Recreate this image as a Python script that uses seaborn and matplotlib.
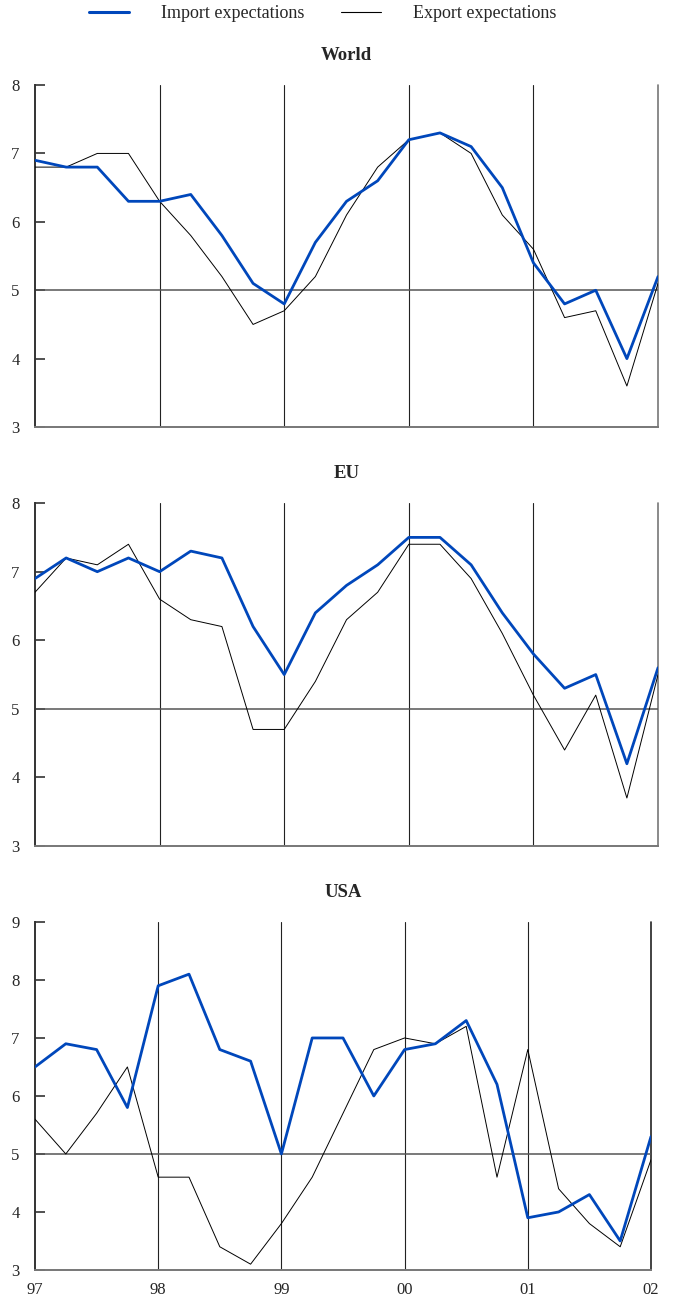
import matplotlib
matplotlib.use('Agg')
import matplotlib.pyplot as plt
from matplotlib.lines import Line2D
import pandas as pd
import seaborn as sns

# quarterly observations 1997Q1 .. 2002Q1
quarters = pd.period_range('1997Q1', '2002Q1', freq='Q')
year_ticks = [1997, 1998, 1999, 2000, 2001, 2002]
year_labels = ['97', '98', '99', '00', '01', '02']

world_import = [6.9, 6.8, 6.8, 6.3, 6.3, 6.4, 5.8, 5.1, 4.8, 5.7, 6.3, 6.6, 7.2, 7.3, 7.1, 6.5, 5.4, 4.8, 5.0, 4.0, 5.2]
world_export = [6.8, 6.8, 7.0, 7.0, 6.3, 5.8, 5.2, 4.5, 4.7, 5.2, 6.1, 6.8, 7.2, 7.3, 7.0, 6.1, 5.6, 4.6, 4.7, 3.6, 5.1]

eu_import = [6.9, 7.2, 7.0, 7.2, 7.0, 7.3, 7.2, 6.2, 5.5, 6.4, 6.8, 7.1, 7.5, 7.5, 7.1, 6.4, 5.8, 5.3, 5.5, 4.2, 5.6]
eu_export = [6.7, 7.2, 7.1, 7.4, 6.6, 6.3, 6.2, 4.7, 4.7, 5.4, 6.3, 6.7, 7.4, 7.4, 6.9, 6.1, 5.2, 4.4, 5.2, 3.7, 5.5]

usa_import = [6.5, 6.9, 6.8, 5.8, 7.9, 8.1, 6.8, 6.6, 5.0, 7.0, 7.0, 6.0, 6.8, 6.9, 7.3, 6.2, 3.9, 4.0, 4.3, 3.5, 5.3]
usa_export = [5.6, 5.0, 5.7, 6.5, 4.6, 4.6, 3.4, 3.1, 3.8, 4.6, 5.7, 6.8, 7.0, 6.9, 7.2, 4.6, 6.8, 4.4, 3.8, 3.4, 4.9]

BLUE = '#0047bb'

sns.set_style('white')
plt.rcParams['font.family'] = ['Liberation Serif', 'DejaVu Serif']

x = quarters.year + (quarters.quarter - 1) / 4

panels = [
    ('World', world_import, world_export, [0.0517, 0.6715, 0.9203, 0.2631], (3, 8), '#777777'),
    ('EU', eu_import, eu_export, [0.0517, 0.3492, 0.9203, 0.2638], (3, 8), '#777777'),
    ('USA', usa_import, usa_export, [0.0517, 0.0231, 0.9099, 0.2677], (3, 9), '#222222'),
]

fig = plt.figure(figsize=(6.77, 13), dpi=100)

for i, (name, imp, exp, rect, ylim, edge) in enumerate(panels):
    ax = fig.add_axes(rect)
    df = pd.DataFrame({'x': x, 'Import expectations': imp, 'Export expectations': exp})

    for yr in year_ticks[1:-1]:
        ax.axvline(yr, color='#222222', lw=0.8, zorder=1)
    ax.axvline(year_ticks[-1], color=edge, lw=1.2, zorder=1, clip_on=False)
    ax.axhline(5, color='#555555', lw=1.1, zorder=1)

    sns.lineplot(data=df, x='x', y='Export expectations', color='black', lw=0.7, ax=ax, zorder=3)
    sns.lineplot(data=df, x='x', y='Import expectations', color=BLUE, lw=2.0, ax=ax, zorder=4)

    ax.set_xlim(1997, 2002)
    ax.set_ylim(*ylim)
    ax.set_yticks(range(ylim[0], ylim[1] + 1))
    ax.set_xlabel('')
    ax.set_ylabel('')
    ax.set_title(name, fontsize=13.5, fontweight='bold', pad=18)

    for s in ['top', 'right']:
        ax.spines[s].set_visible(False)
    ax.spines['left'].set_color('#333333')
    ax.spines['left'].set_linewidth(1.4)
    ax.spines['bottom'].set_color('#777777')
    ax.spines['bottom'].set_linewidth(1.4)

    ax.tick_params(axis='y', direction='in', length=7, width=1.2, color='#333333',
                   labelsize=12, pad=11, left=True)
    ax.set_xticks(year_ticks)
    if i == 2:
        ax.set_xticklabels(year_labels)
        ax.tick_params(axis='x', length=0, labelsize=12, pad=9)
    else:
        ax.tick_params(axis='x', length=0, labelbottom=False)

handles = [Line2D([], [], color=BLUE, lw=2.2), Line2D([], [], color='black', lw=0.8)]
fig.legend(handles, ['Import expectations', 'Export expectations'], loc='center',
           bbox_to_anchor=(0.477, 0.9895), ncol=2, frameon=False, fontsize=13,
           handlelength=2.2, handletextpad=1.8, columnspacing=2.0)

fig.savefig('out.png', dpi=100)
